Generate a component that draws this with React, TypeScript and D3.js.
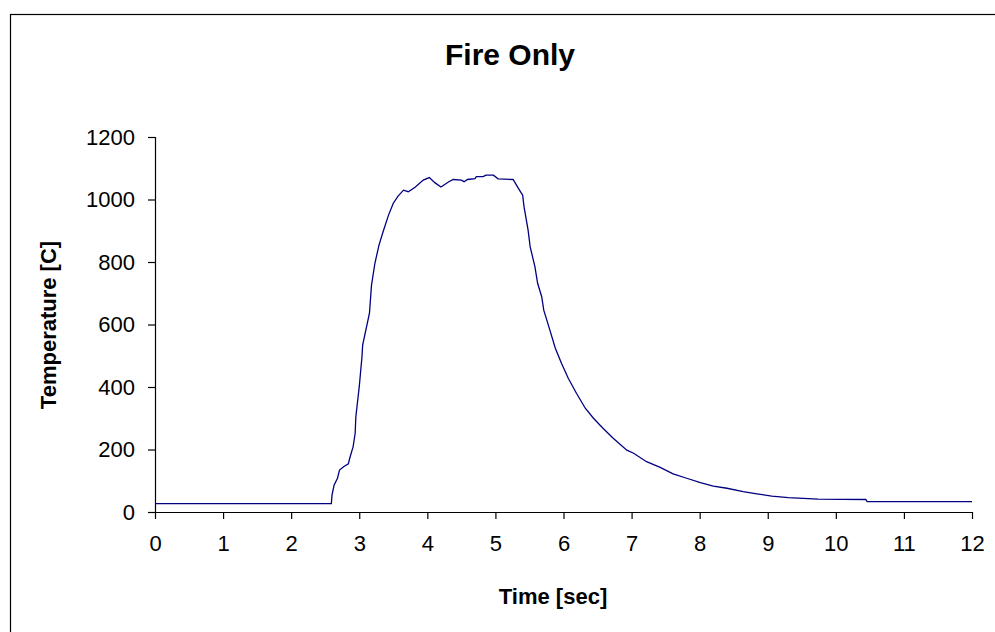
import React, { useRef, useEffect } from "react";
import * as d3 from "d3";

// readings
const timeSec = [
  0, 2.59, 2.6, 2.63, 2.68, 2.71, 2.77, 2.84, 2.86, 2.91, 2.94, 2.95, 3.0,
  3.04, 3.05, 3.15, 3.18, 3.23, 3.29, 3.35, 3.43, 3.5, 3.57, 3.65, 3.72, 3.82,
  3.94, 4.03, 4.11, 4.2, 4.31, 4.38, 4.5, 4.54, 4.59, 4.7, 4.72, 4.82, 4.86,
  4.97, 5.04, 5.26, 5.34, 5.4, 5.42, 5.48, 5.51, 5.58, 5.62, 5.68, 5.71, 5.8,
  5.88, 5.97, 6.07, 6.19, 6.32, 6.44, 6.58, 6.73, 6.93, 7.03, 7.22, 7.42, 7.61,
  7.81, 8.01, 8.2, 8.4, 8.64, 8.84, 9.06, 9.3, 9.74, 10.44, 10.46, 12.0,
];
const tempC = [
  27, 27, 54, 86, 108, 134, 145, 154, 172, 209, 252, 305, 401, 497, 534, 636,
  726, 796, 854, 897, 950, 988, 1011, 1030, 1025, 1039, 1062, 1070, 1054, 1040,
  1056, 1064, 1062, 1057, 1064, 1067, 1073, 1073, 1078, 1078, 1066, 1064, 1035,
  1014, 977, 902, 849, 785, 732, 689, 646, 582, 524, 476, 428, 380, 332, 300,
  268, 236, 198, 188, 161, 143, 122, 108, 94, 83, 76, 65, 58, 51, 46, 41, 40,
  33, 33,
];
const xTicks = [0, 1, 2, 3, 4, 5, 6, 7, 8, 9, 10, 11, 12];
const yTicks = [0, 200, 400, 600, 800, 1000, 1200];

const W = 995;
const H = 632;
const FONT = "Arial, 'Liberation Sans', sans-serif";

export default function App() {
  const svgRef = useRef<SVGSVGElement>(null);

  useEffect(() => {
    if (!svgRef.current) return;
    const svg = d3.select(svgRef.current);
    svg.selectAll("*").remove();

    const x = d3.scaleLinear().domain([0, 12]).range([155, 972]);
    const y = d3.scaleLinear().domain([0, 1200]).range([512, 137]);

    // chart frame (runs off the picture to the right and bottom)
    svg
      .append("rect")
      .attr("x", 10.5)
      .attr("y", 14.5)
      .attr("width", 1000)
      .attr("height", 700)
      .attr("fill", "#fff")
      .attr("stroke", "#000")
      .attr("stroke-width", 1.2);

    svg
      .append("text")
      .attr("x", 510)
      .attr("y", 65)
      .attr("text-anchor", "middle")
      .attr("font-family", FONT)
      .attr("font-weight", "bold")
      .attr("font-size", 30)
      .text("Fire Only");

    const xAxis = svg
      .append("g")
      .attr("transform", `translate(0,${y(0)})`)
      .call(
        d3
          .axisBottom(x)
          .tickValues(xTicks)
          .tickFormat(d3.format("d"))
          .tickSize(7)
          .tickPadding(16),
      );
    const yAxis = svg
      .append("g")
      .attr("transform", `translate(${x(0)},0)`)
      .call(
        d3
          .axisLeft(y)
          .tickValues(yTicks)
          .tickFormat(d3.format("d"))
          .tickSize(7)
          .tickPadding(13),
      );

    [xAxis, yAxis].forEach((g) => {
      g.select(".domain").attr("stroke", "#000").attr("stroke-width", 1.2);
      g.selectAll(".tick line").attr("stroke", "#000").attr("stroke-width", 1.2);
      g.selectAll(".tick text")
        .attr("font-family", FONT)
        .attr("font-size", 22)
        .attr("fill", "#000");
    });
    // plain axis lines, no outer ticks
    xAxis.select(".domain").attr("d", `M${x(0)},0.5H${x(12)}`);
    yAxis.select(".domain").attr("d", `M0.5,${y(1200)}V${y(0)}`);

    const line = d3
      .line<number>()
      .x((_, i) => x(timeSec[i]))
      .y((d) => y(d));

    svg
      .append("path")
      .datum(tempC)
      .attr("d", line)
      .attr("fill", "none")
      .attr("stroke", "#000080")
      .attr("stroke-width", 1.3);

    svg
      .append("text")
      .attr("x", 553)
      .attr("y", 604)
      .attr("text-anchor", "middle")
      .attr("font-family", FONT)
      .attr("font-weight", "bold")
      .attr("font-size", 22)
      .text("Time [sec]");

    svg
      .append("text")
      .attr("transform", `translate(56,325) rotate(-90)`)
      .attr("text-anchor", "middle")
      .attr("font-family", FONT)
      .attr("font-weight", "bold")
      .attr("font-size", 22)
      .text("Temperature [C]");
  }, []);

  return (
    <svg
      ref={svgRef}
      width={W}
      height={H}
      style={{ position: "absolute", left: 0, top: 0, background: "#fff" }}
    />
  );
}
